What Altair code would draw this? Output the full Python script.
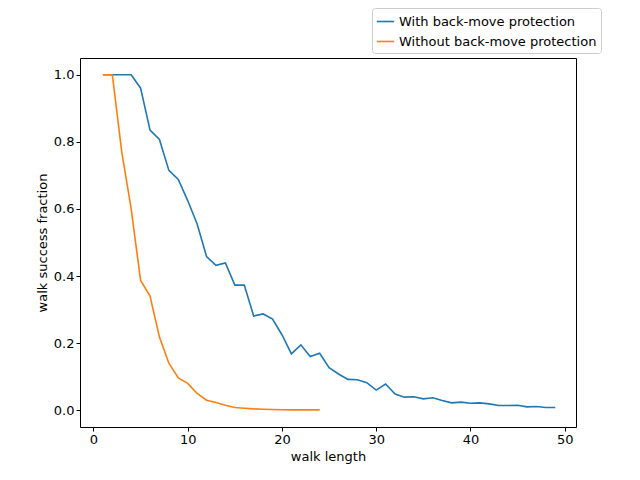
import pandas as pd
import altair as alt

with_bmp = [1, 1, 1, 1, 0.96, 0.835, 0.807, 0.715, 0.688, 0.625, 0.555, 0.458, 0.432, 0.439,
            0.373, 0.373, 0.281, 0.287, 0.272, 0.225, 0.168, 0.195, 0.16, 0.17, 0.127, 0.108,
            0.092, 0.091, 0.082, 0.06, 0.078, 0.048, 0.039, 0.04, 0.034, 0.037, 0.029, 0.022,
            0.024, 0.021, 0.022, 0.019, 0.014, 0.014, 0.015, 0.01, 0.011, 0.008, 0.008]
without_bmp = [1, 1, 0.77, 0.6, 0.387, 0.34, 0.218, 0.14, 0.096, 0.08, 0.05, 0.03, 0.023,
               0.015, 0.008, 0.006, 0.004, 0.003, 0.002, 0.0015, 0.001, 0.001, 0.001, 0.001]
labels = ["With back-move protection", "Without back-move protection"]

rows = [{"len": i + 1, "frac": v, "series": labels[0]} for i, v in enumerate(with_bmp)]
rows += [{"len": i + 1, "frac": v, "series": labels[1]} for i, v in enumerate(without_bmp)]
df = pd.DataFrame(rows)

font = "DejaVu Sans"
chart = alt.Chart(df).mark_line(strokeWidth=1.6, clip=True).encode(
    x=alt.X("len:Q", title="walk length",
            scale=alt.Scale(domain=[-1.43, 51.2], nice=False, zero=False),
            axis=alt.Axis(values=[0, 10, 20, 30, 40, 50], grid=False)),
    y=alt.Y("frac:Q", title="walk success fraction",
            scale=alt.Scale(domain=[-0.05, 1.05], nice=False),
            axis=alt.Axis(values=[0, 0.2, 0.4, 0.6, 0.8, 1.0], format=".1f", grid=False)),
    color=alt.Color("series:N", title=None,
                    scale=alt.Scale(domain=labels, range=["#1f77b4", "#ff7f0e"]),
                    legend=alt.Legend(orient="none", legendX=292, legendY=-50,
                                      symbolType="stroke", symbolStrokeWidth=1.6,
                                      symbolSize=300, labelFontSize=13, labelFont=font,
                                      labelLimit=0, labelColor="black",
                                      strokeColor="#cccccc", fillColor="white",
                                      padding=4, cornerRadius=3, rowPadding=3)),
).properties(
    width=496, height=369, autosize="none",
    padding={"left": 72, "top": 50, "right": 56, "bottom": 45},
).configure_view(stroke="black", strokeWidth=1).configure_axis(
    labelFont=font, titleFont=font, labelFontSize=13, titleFontSize=13,
    titleFontWeight="normal", domain=False, tickColor="black", labelColor="black",
    titleColor="black", tickSize=4,
)

chart.save("out.html", embed_options={"renderer": "svg", "actions": False})
